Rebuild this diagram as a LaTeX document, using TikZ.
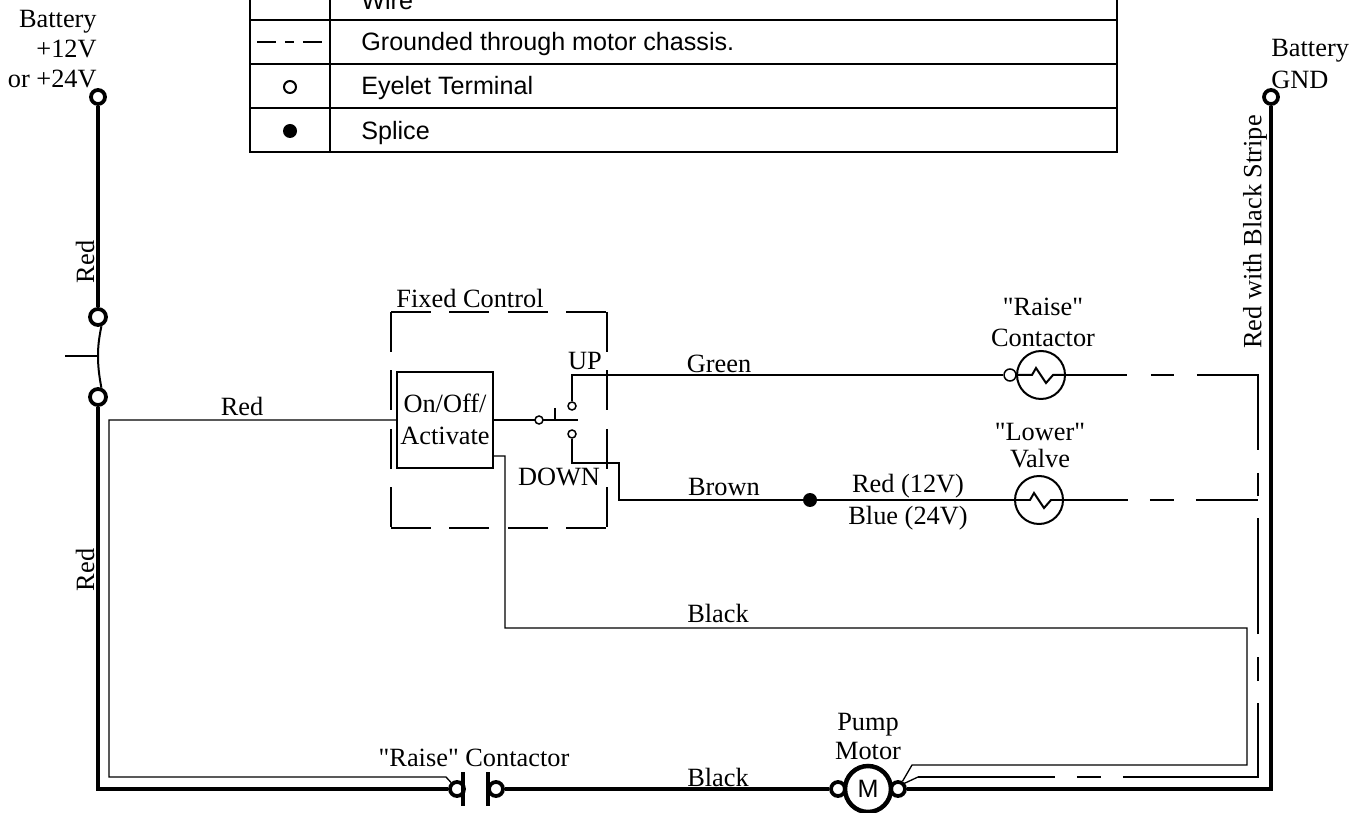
\documentclass[tikz,border=0pt]{standalone}
\usepackage{fontspec}
\setmainfont{Liberation Serif}[Ligatures=TeXOff]
\setsansfont{Liberation Sans}
\tikzset{
	label/.style={inner sep=0pt, font=\fontsize{15}{17}\selectfont},
	legendtext/.style={inner sep=0pt, anchor=west, font=\sffamily\fontsize{14.3}{16}\selectfont},
	thinwire/.style={line width=0.26mm},
	thickwire/.style={line width=0.9mm},
	eyelet/.style={circle, draw=black, fill=white, line width=0.75mm, minimum size=0.28cm, inner sep=0pt},
	contact/.style={circle, draw=black, fill=white, line width=0.3mm, minimum size=0.16cm, inner sep=0pt},
	splice/.style={circle, fill=black, minimum size=0.28cm, inner sep=0pt},
	coil/.style={circle, draw=black, line width=0.4mm, minimum size=0.96cm, inner sep=0pt},
	housing/.style={thinwire, dash pattern=on 0.8cm off 0.37cm}
}
\begin{document}
\begin{tikzpicture}[x=0.02cm, y=-0.02cm]
	\clip (0,0) rectangle (1361,813);
	% legend
	\draw[line width=0.4mm] (250,-5) rectangle (1117,152);
	\draw[line width=0.4mm] (330,-5) -- (330,152);
	\draw[line width=0.4mm] (250,20) -- (1117,20);
	\draw[line width=0.4mm] (250,64) -- (1117,64);
	\draw[line width=0.4mm] (250,108) -- (1117,108);
	\node[legendtext] (legwire) at (361,1) {Wire};
	\node[legendtext] (legground) at (361,44) {Grounded through motor chassis.};
	\node[legendtext] (legeyelet) at (361,88) {Eyelet Terminal};
	\node[legendtext] (legsplice) at (361,133) {Splice};
	\coordinate (legdash1) at (257,42);
	\coordinate (legdash2) at (322,42);
	\draw[thinwire, dash pattern=on 0.38cm off 0.18cm on 0.18cm off 0.18cm on 0.38cm] (legdash1) -- (legdash2);
	\node[contact, line width=0.4mm, minimum size=0.24cm] (legcircle) at (290,87) {};
	\node[splice] (legdot) at (290,131) {};

	% battery side
	\node[eyelet] (batplus) at (98,97) {};
	\node[eyelet, minimum size=0.32cm] (fuse1) at (98,317) {};
	\node[eyelet, minimum size=0.32cm] (fuse2) at (98,397) {};
	\node[eyelet] (batgnd) at (1271,97) {};
	\node[eyelet] (cont1) at (457,789) {};
	\node[eyelet] (cont2) at (496,789) {};
	\node[eyelet] (motor1) at (838,789) {};
	\node[eyelet] (motor2) at (898,789) {};
	\node[circle, draw=black, line width=0.9mm, minimum size=0.92cm, inner sep=0pt, font=\sffamily\fontsize{14.3}{16}\selectfont] (motor) at (868,789) {M};
	\coordinate (cornerl) at (98,789);
	\coordinate (cornerr) at (1271,789);
	\draw[thickwire] (batplus) -- (fuse1);
	\draw[thickwire, line join=miter] (fuse2) -- (cornerl) -- (cont1);
	\draw[thickwire] (cont2) -- (motor1);
	\draw[thickwire, line join=miter] (motor2) -- (cornerr) -- (batgnd);
	\draw[line width=0.8mm] (463,772) -- (463,806);
	\draw[line width=0.8mm] (488,772) -- (488,806);
	\coordinate (fusemid) at (98,356);
	\coordinate (fusestub) at (65,356);
	\draw[line width=0.4mm] (fuse1.-70) .. controls (99,338) and (98,346) .. (fusemid) .. controls (98,366) and (99,375) .. (fuse2.70);
	\draw[thinwire] (fusestub) -- (fusemid);

	% fixed control
	\node[rectangle, draw=black, thinwire, minimum width=1.92cm, minimum height=1.92cm, inner sep=0pt] (onoff) at (445,420) {};
	\node[label] (onofftext) at (445,403) {On/Off/};
	\node[label] (activate) at (445,436) {Activate};
	\coordinate (hsga) at (391,312);
	\coordinate (hsgb) at (607,312);
	\coordinate (hsgc) at (607,528);
	\coordinate (hsgd) at (391,528);
	\draw[housing] (hsga) -- (hsgb);
	\draw[housing] (hsgb) -- (hsgc);
	\draw[housing] (hsgd) -- (hsgc);
	\draw[housing] (hsga) -- (hsgd);
	\node[contact] (upc) at (572,406) {};
	\node[contact] (downc) at (572,434) {};
	\coordinate (bladea) at (526,420);
	\coordinate (bladeb) at (578,420);
	\coordinate (tick) at (555,408);
	\draw[thinwire] (onoff.east) -- (bladea);
	\draw[line width=0.5mm] (bladea) -- (bladeb);
	\draw[thinwire] (tick) -- (tick |- bladeb);
	\node[contact] (pivot) at (539,420) {};

	% raise and lower coils
	\node[coil] (raise) at (1041,375) {};
	\node[contact, minimum size=0.24cm] (raisetm) at (1010,375) {};
	\node[coil] (lower) at (1039,500) {};
	\node[splice] (dot) at (810,500) {};
	\coordinate (upturn) at (572,375);
	\coordinate (downa) at (572,463);
	\coordinate (downb) at (619,463);
	\coordinate (downc2) at (619,500);
	\draw[thinwire] (upc) -- (upturn) -- (raisetm);
	\draw[thinwire] (downc) -- (downa) -- (downb) -- (downc2) -- (dot) -- (lower);
	\draw[line width=0.4mm] (raise.west) -- (1032,375) -- (1036,368) -- (1046,383) -- (1053,375) -- (raise.east);
	\draw[line width=0.4mm] (lower.west) -- (1030,500) -- (1034,493) -- (1044,508) -- (1051,500) -- (lower.east);

	% chassis ground runs
	\coordinate (gndtop) at (1258,375);
	\coordinate (gndup) at (1258,496);
	\coordinate (gndmid) at (1258,500);
	\coordinate (gndlow) at (1258,518);
	\coordinate (gndbot) at (1258,777);
	\coordinate (gndleft) at (918,777);
	\coordinate (term) at (903,784);
	\draw[thinwire, dash pattern=on 1.22cm off 0.48cm on 0.46cm off 0.46cm on 2.72cm off 0.46cm on 0.48cm] (raise.east) -- (gndtop) -- (gndup);
	\draw[thinwire, dash pattern=on 1.28cm off 0.44cm on 0.48cm off 0.44cm on 1.26cm] (lower.east) -- (gndmid);
	\draw[thinwire, dash pattern=on 2.74cm off 0.44cm on 0.48cm off 0.44cm on 4.18cm off 0.44cm on 0.48cm off 0.46cm on 2.32cm] (gndleft) -- (gndbot) -- (gndlow);
	\draw[thinwire] (term) -- (gndleft);

	% red and black control wires
	\coordinate (reda) at (109,420);
	\coordinate (redb) at (109,777);
	\coordinate (redc) at (446,777);
	\coordinate (blka) at (505,456);
	\coordinate (blkb) at (505,628);
	\coordinate (blkc) at (1247,628);
	\coordinate (blkd) at (1247,765);
	\coordinate (blke) at (912,765);
	\draw[thinwire] (onoff.west) -- (reda) -- (redb) -- (redc) -- (cont1);
	\draw[thinwire] (onoff.east |- blka) -- (blka) -- (blkb) -- (blkc) -- (blkd) -- (blke) -- (motor2);

	% labels
	\node[label, anchor=east] (lbat1) at (97,22) {Battery};
	\node[label, anchor=east] (lbat2) at (97,49) {+12V};
	\node[label, anchor=east] (lbat3) at (97,79) {or +24V};
	\node[label, anchor=west] (rbat1) at (1271,51) {Battery};
	\node[label, anchor=west] (rbat2) at (1271,80) {GND};
	\node[label, rotate=90] (lred1) at (85,262) {Red};
	\node[label, rotate=90] (lred2) at (85,570) {Red};
	\node[label, rotate=90] (lstripe) at (1255,232) {Red with Black Stripe};
	\node[label] (lred3) at (242,406) {Red};
	\node[label] (lfixed) at (470,298) {Fixed Control};
	\node[label] (lup) at (585,361) {UP};
	\node[label] (ldown) at (559,477) {DOWN};
	\node[label] (lgreen) at (719,364) {Green};
	\node[label] (lbrown) at (724,487) {Brown};
	\node[label] (lr12) at (908,486) {Red (12V)};
	\node[label] (lb24) at (908,518) {Blue (24V)};
	\node[label] (lraise) at (1043,307) {"Raise"};
	\node[label] (lcont) at (1043,338) {Contactor};
	\node[label] (llower) at (1040,432) {"Lower"};
	\node[label] (lvalve) at (1040,459) {Valve};
	\node[label] (lblack1) at (718,613) {Black};
	\node[label] (lblack2) at (718,777) {Black};
	\node[label] (lpump) at (868,725) {Pump};
	\node[label] (lmotor) at (868,751) {Motor};
	\node[label] (lraisec) at (474,758) {"Raise" Contactor};
\end{tikzpicture}
\end{document}
